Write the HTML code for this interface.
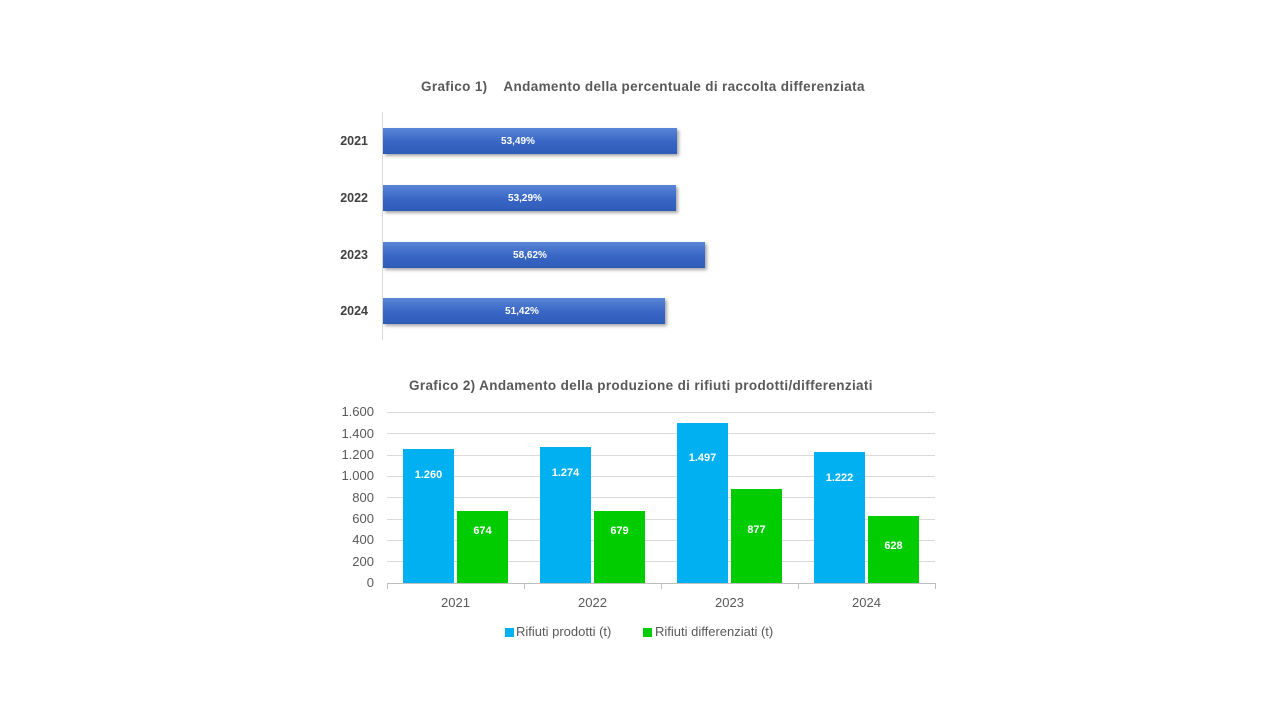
<!DOCTYPE html>
<html><head><meta charset="utf-8"><style>
body{margin:0;width:1280px;height:720px;background:#fff;position:relative;overflow:hidden;font-family:"Liberation Sans",sans-serif;}
.a{position:absolute;}
.t{font-weight:bold;color:#595959;font-size:13.5px;letter-spacing:0.35px;white-space:nowrap;}
.hb{position:absolute;left:383px;height:26px;background:linear-gradient(#5a85d6,#3a68c6 50%,#2f5bb8);box-shadow:2px 2px 3px rgba(0,0,0,.35);}
.hl{position:absolute;width:60px;margin-left:-30px;color:#fff;font-size:10px;font-weight:bold;text-align:center;line-height:26px;}
.yl{position:absolute;left:320px;width:48px;text-align:right;font-size:12.5px;font-weight:bold;color:#404040;}
.g{position:absolute;left:387px;width:548px;height:1px;background:#d9d9d9;}
.yt{position:absolute;left:330px;width:44px;text-align:right;font-size:13px;color:#595959;}
.vb{position:absolute;width:51px;color:#fff;font-size:11px;font-weight:bold;text-align:center;}
.b{background:#00b0f0}.gr{background:#00cc00}
.xl{position:absolute;width:137px;text-align:center;font-size:13px;color:#595959;top:595px;}
</style></head><body>
<div class="a t" style="left:421px;top:79px;">Grafico 1)&nbsp;&nbsp;&nbsp; Andamento della percentuale di raccolta differenziata</div>
<div class="a" style="left:382px;top:112px;width:1px;height:228px;background:#d9d9d9"></div>
<div class="yl" style="top:134px">2021</div>
<div class="yl" style="top:191px">2022</div>
<div class="yl" style="top:248px">2023</div>
<div class="yl" style="top:304px">2024</div>
<div class="hb" style="top:128px;width:294px"></div><div class="hl" style="left:518px;top:129px">53,49%</div>
<div class="hb" style="top:185px;width:293px"></div><div class="hl" style="left:525px;top:186px">53,29%</div>
<div class="hb" style="top:242px;width:322px"></div><div class="hl" style="left:530px;top:243px">58,62%</div>
<div class="hb" style="top:298px;width:282px"></div><div class="hl" style="left:522px;top:299px">51,42%</div>

<div class="a t" style="left:409px;top:378px;">Grafico 2) Andamento della produzione di rifiuti prodotti/differenziati</div>
<div class="g" style="top:412px"></div><div class="g" style="top:433px"></div><div class="g" style="top:455px"></div><div class="g" style="top:476px"></div><div class="g" style="top:497px"></div><div class="g" style="top:519px"></div><div class="g" style="top:540px"></div><div class="g" style="top:561px"></div>
<div class="g" style="top:583px;background:#bfbfbf"></div>
<div class="a" style="left:387px;top:583px;width:1px;height:6px;background:#bfbfbf"></div>
<div class="a" style="left:524px;top:583px;width:1px;height:6px;background:#bfbfbf"></div>
<div class="a" style="left:661px;top:583px;width:1px;height:6px;background:#bfbfbf"></div>
<div class="a" style="left:798px;top:583px;width:1px;height:6px;background:#bfbfbf"></div>
<div class="a" style="left:935px;top:583px;width:1px;height:6px;background:#bfbfbf"></div>
<div class="yt" style="top:404px">1.600</div><div class="yt" style="top:426px">1.400</div><div class="yt" style="top:447px">1.200</div><div class="yt" style="top:468px">1.000</div><div class="yt" style="top:490px">800</div><div class="yt" style="top:511px">600</div><div class="yt" style="top:532px">400</div><div class="yt" style="top:554px">200</div><div class="yt" style="top:575px">0</div>

<div class="vb b" style="left:403px;top:449px;height:134px"><div style="margin-top:20px">1.260</div></div>
<div class="vb gr" style="left:457px;top:511px;height:72px"><div style="margin-top:14px">674</div></div>
<div class="vb b" style="left:540px;top:447px;height:136px"><div style="margin-top:20px">1.274</div></div>
<div class="vb gr" style="left:594px;top:511px;height:72px"><div style="margin-top:14px">679</div></div>
<div class="vb b" style="left:677px;top:423px;height:160px"><div style="margin-top:29px">1.497</div></div>
<div class="vb gr" style="left:731px;top:489px;height:94px"><div style="margin-top:35px">877</div></div>
<div class="vb b" style="left:814px;top:452px;height:131px"><div style="margin-top:20px">1.222</div></div>
<div class="vb gr" style="left:868px;top:516px;height:67px"><div style="margin-top:24px">628</div></div>

<div class="xl" style="left:387px">2021</div><div class="xl" style="left:524px">2022</div><div class="xl" style="left:661px">2023</div><div class="xl" style="left:798px">2024</div>

<div class="a" style="left:505px;top:628px;width:9px;height:9px;background:#00b0f0"></div>
<div class="a" style="left:516px;top:624px;font-size:13px;color:#595959">Rifiuti prodotti (t)</div>
<div class="a" style="left:643px;top:628px;width:9px;height:9px;background:#00cc00"></div>
<div class="a" style="left:655px;top:624px;font-size:13px;color:#595959">Rifiuti differenziati (t)</div>
</body></html>
